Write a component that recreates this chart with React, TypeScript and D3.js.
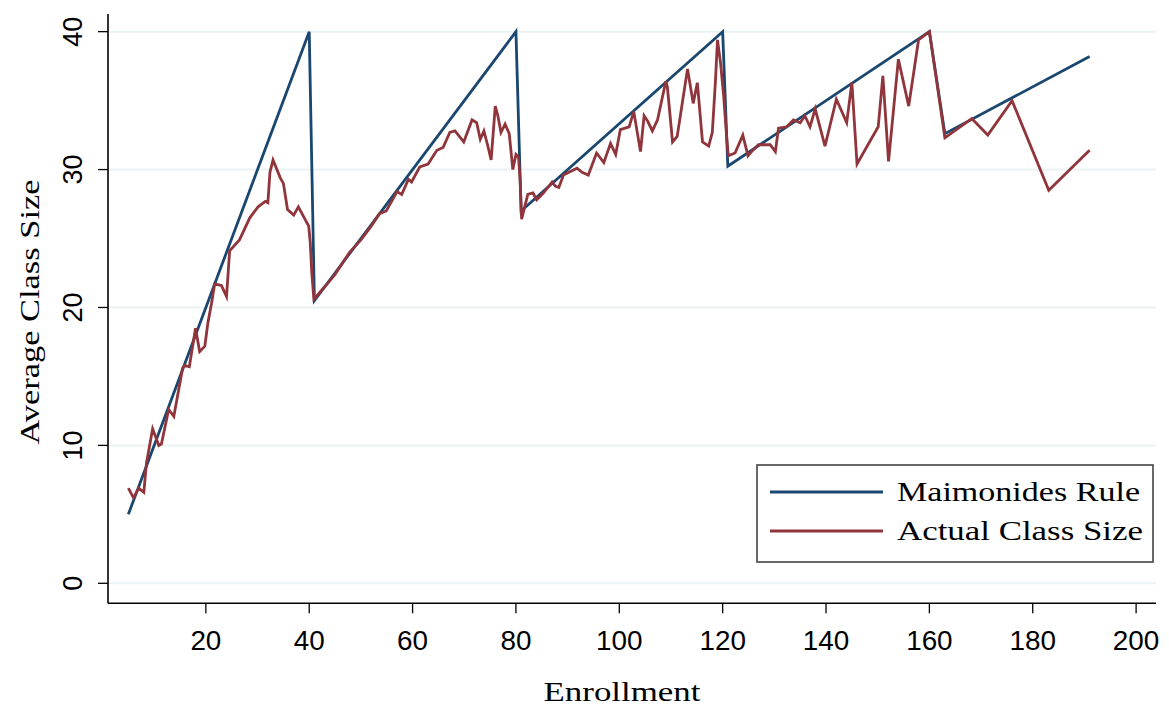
import React, { useEffect, useRef } from 'react';
import * as d3 from 'd3';

const W = 1169;
const H = 709;
const plot = { left: 108, right: 1156, top: 14, bottom: 603.3 };

// Maimonides rule line, breakpoints
const ruleEnrollment = [5, 40, 41, 80, 81, 120, 121, 160, 163, 191];
const ruleSize = [5, 40, 20.5, 40, 27, 40, 30.25, 40, 32.6, 38.2];

// actual average class size
const actualEnrollment = [
  5, 6, 7, 8, 8.5, 9.7, 10.9, 11.4, 12.8, 13.8, 15.5, 15.9, 16.8, 18, 18.8, 19.8, 20.4, 21.1, 21.7, 23,
  24, 24.6, 26.5, 28.5, 30.1, 31.5, 32, 32.4, 33, 34.4, 35, 35.8, 37, 37.9, 39.9, 40.2, 40.5, 40.9,
  43, 45, 47.8, 50, 52, 53.6, 54.9, 57, 57.9, 59.2, 59.8, 61.4, 63, 64.7, 65.9, 67.2, 68.2, 69.9,
  71.5, 72.4, 73.1, 73.8, 74.5, 75.2, 76, 76.5, 77.1, 77.9, 78.7, 79.4, 80, 80.5, 80.8, 81.1,
  82.3, 83.3, 84, 85.3, 87, 87.6, 88.3, 89.2, 91.8, 92.8, 94, 95.6, 97, 98.3, 99.3, 100.2, 101.9,
  102.8, 104.1, 104.8, 105.5, 106.4, 107.4, 109, 109.3, 110.3, 111.2, 113.2, 114.3, 115.1, 116.1,
  117.3, 118, 118.6, 119, 119.6, 120.2, 120.8, 121.1, 122.4, 123.9, 124.9, 125.6, 126.9, 129.2,
  130.2, 130.8, 132.4, 133.7, 135, 135.9, 136.9, 137.9, 139.8, 142, 144, 145, 146, 150.1, 151,
  152.1, 154, 156, 157.9, 160, 163, 168.2, 171.3, 176, 183.1, 191
];
const actualSize = [
  6.9, 6.2, 6.9, 6.6, 8.7, 11.2, 10.0, 10.1, 12.6, 12.1, 15.6, 15.8, 15.7, 18.5, 16.8, 17.2, 18.9, 20.3, 21.7, 21.6,
  20.8, 24.1, 24.9, 26.5, 27.3, 27.7, 27.6, 29.8, 30.7, 29.4, 29.0, 27.1, 26.7, 27.3, 25.9, 24.7, 22.5, 20.6,
  21.5, 22.4, 24.0, 24.9, 25.9, 26.8, 27.0, 28.4, 28.2, 29.3, 29.1, 30.2, 30.4, 31.4, 31.6, 32.7, 32.8, 32.0,
  33.6, 33.4, 32.2, 32.8, 31.8, 30.7, 34.6, 33.9, 32.7, 33.3, 32.6, 30.0, 31.1, 30.9, 29.3, 26.4,
  28.2, 28.3, 27.8, 28.3, 29.1, 28.8, 28.7, 29.6, 30.1, 29.8, 29.6, 31.2, 30.5, 31.9, 31.1, 32.9, 33.1,
  34.2, 31.3, 33.9, 33.5, 32.8, 33.6, 36.4, 36.0, 32.0, 32.4, 37.3, 34.8, 36.3, 32.0,
  31.7, 32.7, 36.4, 39.4, 37.7, 35.3, 32.2, 31.0, 31.2, 32.5, 31.0, 31.3, 31.8, 31.8,
  31.3, 33.0, 33.1, 33.6, 33.4, 33.9, 33.1, 34.4, 31.7, 35.1, 33.4, 36.3, 30.4, 33.1, 36.8,
  30.6, 38.0, 34.6, 39.4, 40, 32.3, 33.7, 32.5, 35.0, 28.5, 31.4
];

const xTicks = [20, 40, 60, 80, 100, 120, 140, 160, 180, 200];
const yTicks = [0, 10, 20, 30, 40];
const seriesNames = ['Maimonides Rule', 'Actual Class Size'];
const seriesColors = ['#1a476f', '#90353b'];

export default function App() {
  const ref = useRef<SVGSVGElement>(null);

  useEffect(() => {
    const svg = d3.select(ref.current);
    svg.selectAll('*').remove();

    const x = d3.scaleLinear().domain([1.064, 203.85]).range([plot.left, plot.right]);
    const y = d3.scaleLinear().domain([-1.45, 41.28]).range([plot.bottom, plot.top]);

    svg.append('rect').attr('width', W).attr('height', H).attr('fill', '#fff');

    // gridlines
    svg.append('g').selectAll('line').data(yTicks).enter().append('line')
      .attr('x1', plot.left).attr('x2', plot.right)
      .attr('y1', d => y(d)).attr('y2', d => y(d))
      .attr('stroke', '#eaf2f3').attr('stroke-width', 2);

    // lines
    const line = d3.line<[number, number]>().x(d => x(d[0])).y(d => y(d[1]));
    const rule = ruleEnrollment.map((e, i) => [e, ruleSize[i]] as [number, number]);
    const actual = actualEnrollment.map((e, i) => [e, actualSize[i]] as [number, number]);
    [rule, actual].forEach((pts, i) => {
      svg.append('path').attr('d', line(pts))
        .attr('fill', 'none').attr('stroke', seriesColors[i])
        .attr('stroke-width', 2.8).attr('stroke-linejoin', 'miter');
    });

    // x axis
    const gx = svg.append('g').attr('transform', 'translate(0,' + plot.bottom + ')');
    gx.append('line').attr('x1', plot.left).attr('x2', plot.right)
      .attr('stroke', '#000').attr('stroke-width', 1.6);
    const xt = gx.selectAll('g.tick').data(xTicks).enter().append('g')
      .attr('transform', d => 'translate(' + x(d) + ',0)');
    xt.append('line').attr('y2', 10).attr('stroke', '#000').attr('stroke-width', 1.3);
    xt.append('text').attr('y', 47).attr('text-anchor', 'middle')
      .attr('font-family', '"Liberation Sans Narrow", "Arial Narrow", "Liberation Sans", Arial, sans-serif')
      .attr('font-size', 27).attr('fill', '#000')
      .attr('textLength', d => String(d).length * 15.5).attr('lengthAdjust', 'spacingAndGlyphs')
      .text(d => d);

    // y axis
    const gy = svg.append('g').attr('transform', 'translate(' + plot.left + ',0)');
    gy.append('line').attr('y1', plot.top).attr('y2', plot.bottom)
      .attr('stroke', '#000').attr('stroke-width', 1.6);
    const yt = gy.selectAll('g.tick').data(yTicks).enter().append('g')
      .attr('transform', d => 'translate(0,' + y(d) + ')');
    yt.append('line').attr('x2', -10).attr('stroke', '#000').attr('stroke-width', 1.3);
    yt.append('text').attr('transform', 'translate(-26,0) rotate(-90)')
      .attr('text-anchor', 'middle')
      .attr('font-family', '"Liberation Sans", Arial, sans-serif')
      .attr('font-size', 27).attr('fill', '#000')
      .text(d => d);

    // axis titles
    const serif = '"Liberation Serif", "Times New Roman", serif';
    svg.append('text').attr('x', 622).attr('y', 701).attr('text-anchor', 'middle')
      .attr('font-family', serif).attr('font-size', 27).attr('fill', '#000')
      .attr('textLength', 157).attr('lengthAdjust', 'spacingAndGlyphs')
      .text('Enrollment');
    svg.append('text').attr('transform', 'translate(39,312) rotate(-90)')
      .attr('text-anchor', 'middle')
      .attr('font-family', serif).attr('font-size', 27).attr('fill', '#000')
      .attr('textLength', 265).attr('lengthAdjust', 'spacingAndGlyphs')
      .text('Average Class Size');

    // legend
    const lg = svg.append('g').attr('transform', 'translate(757,465)');
    lg.append('rect').attr('width', 396).attr('height', 97)
      .attr('fill', '#fff').attr('stroke', '#444').attr('stroke-width', 1.6);
    seriesNames.forEach((name, i) => {
      const ly = 27 + i * 39;
      lg.append('line').attr('x1', 13).attr('x2', 126).attr('y1', ly).attr('y2', ly)
        .attr('stroke', seriesColors[i]).attr('stroke-width', 2.8);
      lg.append('text').attr('x', 140).attr('y', ly + 9)
        .attr('font-family', serif).attr('font-size', 27).attr('fill', '#000')
        .attr('textLength', i === 0 ? 243 : 246).attr('lengthAdjust', 'spacingAndGlyphs')
        .text(name);
    });
  }, []);

  return (
    <svg ref={ref} width={W} height={H}
      style={{ position: 'absolute', left: 0, top: 0, display: 'block' }} />
  );
}
